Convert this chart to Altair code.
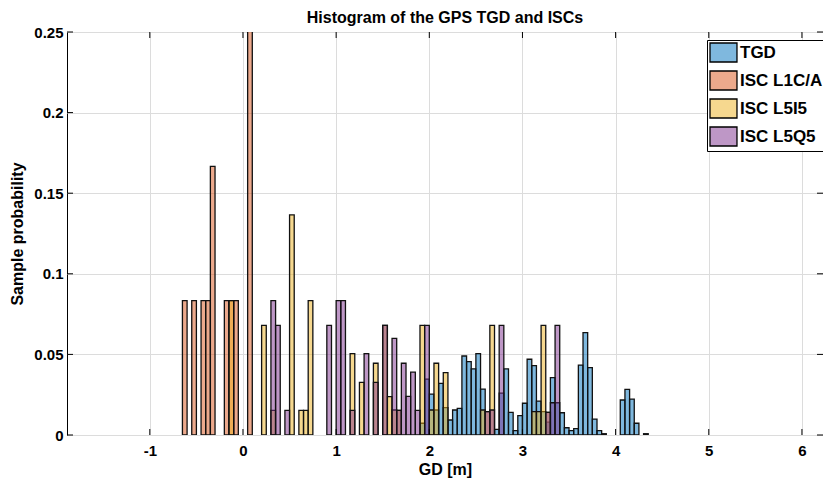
import altair as alt
import pandas as pd

bin_width = 0.05

series_names = ["TGD", "ISC L1C/A", "ISC L5I5", "ISC L5Q5"]
series_colors = ["rgba(0,114,189,0.5)", "rgba(217,83,25,0.5)",
                 "rgba(237,177,32,0.5)", "rgba(126,47,142,0.5)"]

tgd_start = [1.90, 1.95, 2.00, 2.05, 2.10, 2.15, 2.20, 2.25, 2.30, 2.35,
             2.40, 2.45, 2.50, 2.55, 2.70, 2.75, 2.80, 2.85,
             2.90, 2.95, 3.00, 3.05, 3.10, 3.15, 3.20, 3.25, 3.30, 3.35,
             3.40, 3.45, 3.50, 3.55, 3.60, 3.65, 3.70, 3.75, 3.80, 3.85,
             4.05, 4.10, 4.15, 4.20, 4.30]
tgd_prob = [0.0073, 0.0347, 0.0254, 0.0155, 0.032, 0.017, 0.0093, 0.0155, 0.0165, 0.049,
            0.0455, 0.041, 0.0505, 0.0285, 0.0035, 0.026, 0.041, 0.014,
            0.0027, 0.012, 0.0197, 0.047, 0.043, 0.021, 0.0145, 0.008, 0.0356, 0.02,
            0.0138, 0.0045, 0.0027, 0.004, 0.0434, 0.0635, 0.0418, 0.0099, 0.0027, 0.0008,
            0.0217, 0.0283, 0.0223, 0.0073, 0.0008]

l1ca_start = [-0.65, -0.55, -0.45, -0.40, -0.35, -0.20, -0.15, -0.10, 0.05]
l1ca_prob = [0.0833, 0.0833, 0.0833, 0.0833, 0.1667, 0.0833, 0.0833, 0.0833, 0.30]

l5i5_start = [-0.15, 0.20, 0.30, 0.50, 0.60, 0.65, 0.70, 1.15, 1.25, 1.40,
              1.50, 1.55, 1.60, 1.65, 1.90, 2.00, 2.05, 2.15, 2.55, 2.60,
              2.65, 3.10, 3.15, 3.20, 3.25]
l5i5_prob = [0.0833, 0.068, 0.0153, 0.1365, 0.0153, 0.0153, 0.0833, 0.0505, 0.0327, 0.0445,
             0.068, 0.0238, 0.0155, 0.0153, 0.068, 0.0155, 0.0445, 0.0387, 0.0155, 0.0145,
             0.068, 0.0145, 0.0145, 0.068, 0.014]

l5q5_start = [0.30, 0.35, 0.45, 0.90, 1.00, 1.05, 1.15, 1.30, 1.40, 1.50,
              1.60, 1.65, 1.70, 1.75, 1.80, 1.85, 1.95, 2.60, 2.65, 2.75,
              3.25, 3.30, 3.35]
l5q5_prob = [0.0833, 0.068, 0.0153, 0.068, 0.0833, 0.0833, 0.0153, 0.0505, 0.0327, 0.068,
             0.06, 0.0153, 0.0445, 0.024, 0.039, 0.0153, 0.068, 0.0145, 0.0155, 0.068,
             0.014, 0.02, 0.068]

x_ticks = [-1, 0, 1, 2, 3, 4, 5, 6]
y_ticks = [0, 0.05, 0.1, 0.15, 0.2, 0.25]

rows = []
for name, starts, probs in [("TGD", tgd_start, tgd_prob),
                            ("ISC L1C/A", l1ca_start, l1ca_prob),
                            ("ISC L5I5", l5i5_start, l5i5_prob),
                            ("ISC L5Q5", l5q5_start, l5q5_prob)]:
    for s, p in zip(starts, probs):
        rows.append({"series": name, "start": s, "end": round(s + bin_width, 4), "prob": p})
df = pd.DataFrame(rows)
xt = pd.DataFrame({"xt": x_ticks})
yt = pd.DataFrame({"yt": y_ticks})

font = "Liberation Sans"
W, H = 756, 403
x_scale = alt.Scale(domain=[-1.889, 6.226], nice=False, zero=False)
y_scale = alt.Scale(domain=[0, 0.25], nice=False)
x_axis = alt.Axis(values=x_ticks, labelExpr="'' + datum.value", labelPadding=8,
                  titlePadding=3, labelFlush=False)
y_axis = alt.Axis(values=y_ticks, labelExpr="'' + datum.value", labelPadding=4,
                  titlePadding=8, labelFlush=False)
x_title = "GD [m]"
y_title = "Sample probability"

bars = alt.Chart(df).mark_bar(
    stroke="#111111", strokeWidth=1.3, clip=True
).encode(
    x=alt.X("start:Q", title=x_title, scale=x_scale, axis=x_axis),
    x2="end:Q",
    y=alt.Y("prob:Q", title=y_title, scale=y_scale, axis=y_axis),
    y2=alt.datum(0),
    color=alt.Color("series:N",
                    scale=alt.Scale(domain=series_names, range=series_colors),
                    legend=alt.Legend(title=None, orient="none", legendX=640, legendY=8,
                                      strokeColor="black", fillColor="white", padding=2,
                                      symbolType="M-1,-1H1.84V1H-1Z", symbolSize=361,
                                      symbolStrokeColor="black", symbolStrokeWidth=1.3,
                                      labelFont=font, labelFontWeight="bold", labelFontSize=17,
                                      labelColor="black", rowPadding=3, labelOffset=10)),
)

tick_style = dict(color="black", strokeWidth=1)
xt_bottom = alt.Chart(xt).mark_rule(**tick_style).encode(
    x=alt.X("xt:Q", title=x_title, scale=x_scale, axis=x_axis),
    y=alt.value(H), y2=alt.value(H - 6))
xt_top = alt.Chart(xt).mark_rule(**tick_style).encode(
    x=alt.X("xt:Q", title=x_title, scale=x_scale, axis=x_axis),
    y=alt.value(0), y2=alt.value(6))
yt_left = alt.Chart(yt).mark_rule(**tick_style).encode(
    y=alt.Y("yt:Q", title=y_title, scale=y_scale, axis=y_axis),
    x=alt.value(0), x2=alt.value(6))
yt_right = alt.Chart(yt).mark_rule(**tick_style).encode(
    y=alt.Y("yt:Q", title=y_title, scale=y_scale, axis=y_axis),
    x=alt.value(W), x2=alt.value(W - 6))

chart = alt.layer(bars, xt_bottom, xt_top, yt_left, yt_right).properties(
    width=W, height=H,
    title=alt.TitleParams("Histogram of the GPS TGD and ISCs", font=font, fontSize=16,
                          fontWeight="bold", color="black", offset=6, frame="group", dy=7),
    autosize=alt.AutoSizeParams(type="none"),
    padding={"left": 59, "top": 24, "right": 0, "bottom": 45},
).configure_view(
    stroke="black", strokeWidth=1
).configure_axis(
    grid=True, gridColor="#dcdcdc", gridWidth=1, ticks=False, domain=False,
    labelFont=font, labelFontWeight="bold", labelFontSize=15, labelColor="black",
    titleFont=font, titleFontWeight="bold", titleFontSize=16, titleColor="black",
)

chart.save("out.html", embed_options={"renderer": "svg", "actions": False})
